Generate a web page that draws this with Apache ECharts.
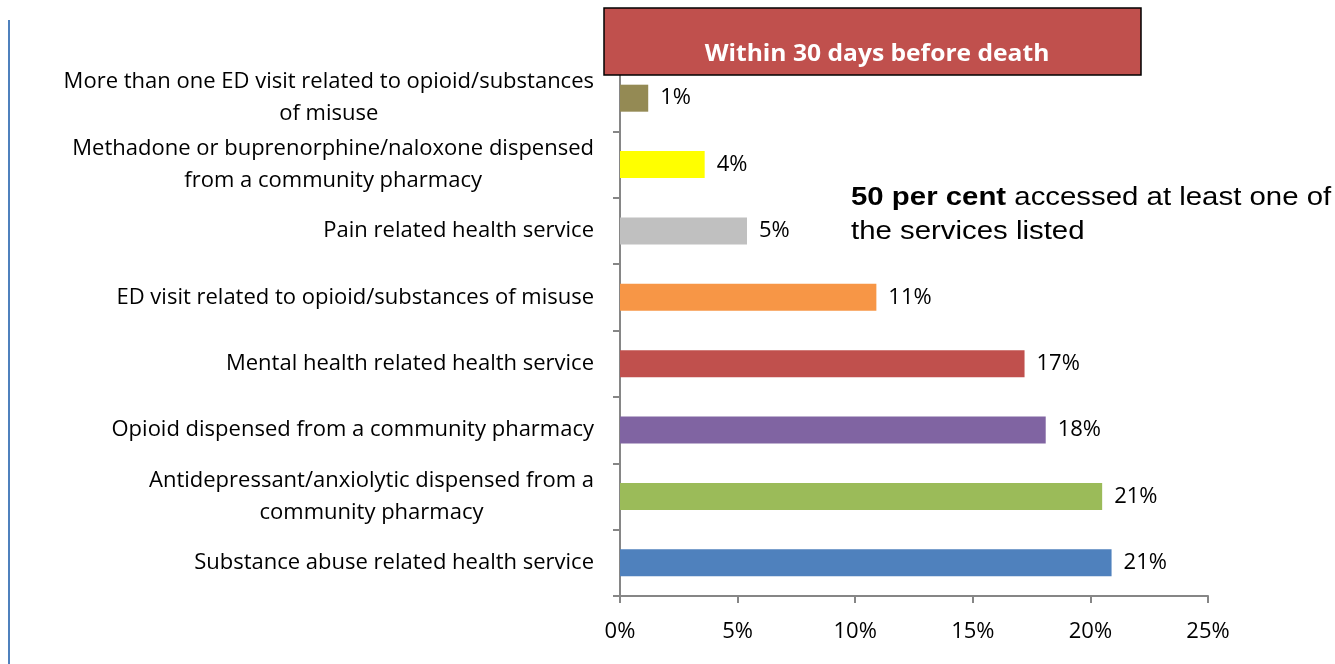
<!DOCTYPE html>
<html>
<head>
<meta charset="utf-8">
<script src="https://cdn.jsdelivr.net/npm/echarts@6/dist/echarts.min.js"></script>
<style>
  html, body { margin: 0; padding: 0; background: #fff; }
  #chart { width: 1335px; height: 664px; }
</style>
</head>
<body>
<div id="chart"></div>
<script>
// services accessed, top to bottom
const categories = [
  'More than one ED visit related to opioid/substances of misuse',
  'Methadone or buprenorphine/naloxone dispensed from a community pharmacy',
  'Pain related health service',
  'ED visit related to opioid/substances of misuse',
  'Mental health related health service',
  'Opioid dispensed from a community pharmacy',
  'Antidepressant/anxiolytic dispensed from a community pharmacy',
  'Substance abuse related health service'
]
const values = [1.2, 3.6, 5.4, 10.9, 17.2, 18.1, 20.5, 20.9]
const barColors = ['#948a54', '#ffff00', '#c0c0c0', '#f79646', '#c0504d', '#8064a2', '#9bbb59', '#4f81bd']
const xTicks = [0, 5, 10, 15, 20, 25]
const boxTitle = 'Within 30 days before death'
const note = ['50 per cent', 'accessed at least one of', 'the services listed']

const font = 'Open Sans'
const fontSize = 22
const maxLabelWidth = 540

// wrap a label like Excel does, lines get centred inside the block
const ctx = document.createElement('canvas').getContext('2d')
ctx.font = fontSize + 'px "' + font + '"'
function wrapLabel(text) {
  const words = text.split(' ')
  const lines = []
  let cur = ''
  words.forEach(w => {
    const test = cur ? cur + ' ' + w : w
    if (cur && ctx.measureText(test).width > maxLabelWidth) {
      lines.push(cur)
      cur = w
    } else {
      cur = test
    }
  })
  lines.push(cur)
  return lines.map(l => '{c|' + l + '}').join('\n')
}

const myChart = echarts.init(document.getElementById('chart'))

const option = {
  animation: false,
  grid: { left: 620, right: 127, top: 65, bottom: 68 },
  xAxis: {
    type: 'value',
    min: xTicks[0],
    max: xTicks[xTicks.length - 1],
    interval: 5,
    splitLine: { show: false },
    axisLine: { show: true, lineStyle: { color: '#868686', width: 2 } },
    axisTick: { show: true, length: 7, lineStyle: { color: '#868686', width: 2 } },
    axisLabel: {
      formatter: '{value}%', color: '#000', fontFamily: font, fontSize: fontSize, margin: 25
    }
  },
  yAxis: {
    type: 'category',
    inverse: true,
    data: categories,
    axisLine: { show: true, lineStyle: { color: '#868686', width: 2 } },
    axisTick: { show: true, length: 7, lineStyle: { color: '#868686', width: 2 } },
    axisLabel: {
      interval: 0,
      color: '#000', fontFamily: font, fontSize: fontSize, margin: 26, lineHeight: 32,
      formatter: wrapLabel,
      rich: {
        c: { align: 'center', color: '#000', fontFamily: font, fontSize: fontSize, lineHeight: 32 }
      }
    }
  },
  series: [{
    type: 'bar',
    data: values.map((v, i) => ({ value: v, itemStyle: { color: barColors[i] } })),
    barWidth: 27,
    label: {
      show: true, position: 'right', distance: 12,
      color: '#000', fontFamily: font, fontSize: fontSize,
      formatter: p => Math.round(p.value) + '%'
    }
  }],
  graphic: [
    {
      type: 'line',
      shape: { x1: 9, y1: 20, x2: 9, y2: 664 },
      style: { stroke: '#4f81bd', lineWidth: 2 }
    },
    {
      type: 'rect',
      shape: { x: 604, y: 8, width: 537, height: 67 },
      style: { fill: '#c0504d', stroke: '#000', lineWidth: 1.5 },
      z: 100
    },
    {
      type: 'text',
      x: 877, y: 54,
      scaleX: 1.07,
      style: {
        text: boxTitle, fill: '#fff', fontFamily: font, fontWeight: 'bold',
        fontSize: 23, align: 'center', verticalAlign: 'middle'
      },
      z: 101
    },
    {
      type: 'text',
      x: 851, y: 181,
      scaleX: 1.13,
      style: {
        text: '{b|' + note[0] + '} ' + note[1] + '\n' + note[2],
        fontFamily: 'Liberation Sans', fontSize: 26, lineHeight: 34, fill: '#000',
        rich: { b: { fontWeight: 'bold', fontFamily: 'Liberation Sans', fontSize: 26 } }
      }
    }
  ]
}

myChart.setOption(option)
</script>
</body>
</html>
